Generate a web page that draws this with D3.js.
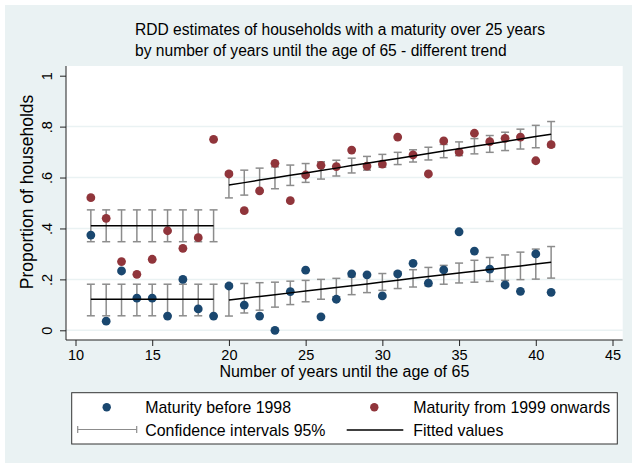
<!DOCTYPE html>
<html lang="en">
<head>
    <meta charset="UTF-8">
    <title>RDD estimates</title>
    <script src="https://d3js.org/d3.v7.min.js"></script>
    <style>
        body { margin: 0; background: #ffffff; }
        svg { display: block; }
        text { font-family: "Liberation Sans", Arial, sans-serif; fill: #000; }
    </style>
</head>
<body>
    <div id="my_dataviz">
        <script>
            // years until 65 (x categories)
            var years = [11, 12, 13, 14, 15, 16, 17, 18, 19, 20, 21, 22, 23, 24, 25, 26, 27, 28, 29, 30,
                         31, 32, 33, 34, 35, 36, 37, 38, 39, 40, 41];
            var cutoff = 20;

            // Maturity before 1998
            var before1998 = [0.374, 0.036, 0.233, 0.126, 0.126, 0.056, 0.200, 0.084, 0.056,
                              0.174, 0.099, 0.056, 0.000, 0.152, 0.236, 0.053, 0.122, 0.222, 0.218, 0.135,
                              0.222, 0.263, 0.185, 0.237, 0.387, 0.311, 0.240, 0.178, 0.153, 0.300, 0.149];
            var fitBefore = [0.122, 0.122, 0.122, 0.122, 0.122, 0.122, 0.122, 0.122, 0.122,
                             0.119, 0.126, 0.133, 0.140, 0.147, 0.154, 0.161, 0.168, 0.175, 0.182, 0.190,
                             0.197, 0.204, 0.211, 0.218, 0.225, 0.232, 0.239, 0.246, 0.253, 0.260, 0.267];
            var loBefore = [0.057, 0.057, 0.057, 0.057, 0.057, 0.057, 0.057, 0.057, 0.057,
                            0.056, 0.068, 0.079, 0.091, 0.101, 0.112, 0.122, 0.132, 0.140, 0.148, 0.157,
                            0.164, 0.170, 0.175, 0.181, 0.186, 0.189, 0.192, 0.196, 0.199, 0.201, 0.205];
            var hiBefore = [0.181, 0.181, 0.181, 0.181, 0.181, 0.181, 0.181, 0.181, 0.181,
                            0.182, 0.184, 0.187, 0.189, 0.193, 0.196, 0.200, 0.204, 0.210, 0.216, 0.223,
                            0.230, 0.238, 0.247, 0.255, 0.264, 0.275, 0.286, 0.296, 0.307, 0.319, 0.329];

            // Maturity from 1999 onwards
            var from1999 = [0.521, 0.440, 0.270, 0.220, 0.279, 0.391, 0.322, 0.364, 0.750,
                            0.614, 0.470, 0.548, 0.656, 0.509, 0.610, 0.648, 0.643, 0.708, 0.645, 0.653,
                            0.759, 0.689, 0.614, 0.744, 0.700, 0.774, 0.741, 0.754, 0.759, 0.666, 0.729];
            var fitFrom = [0.411, 0.411, 0.411, 0.411, 0.411, 0.411, 0.411, 0.411, 0.411,
                           0.571, 0.580, 0.590, 0.599, 0.609, 0.618, 0.628, 0.637, 0.647, 0.656, 0.666,
                           0.675, 0.685, 0.694, 0.704, 0.713, 0.723, 0.732, 0.742, 0.751, 0.761, 0.770];
            var loFrom = [0.348, 0.348, 0.348, 0.348, 0.348, 0.348, 0.348, 0.348, 0.348,
                          0.520, 0.531, 0.543, 0.556, 0.569, 0.581, 0.594, 0.606, 0.618, 0.629, 0.641,
                          0.651, 0.661, 0.669, 0.678, 0.686, 0.693, 0.699, 0.706, 0.712, 0.717, 0.720];
            var hiFrom = [0.473, 0.473, 0.473, 0.473, 0.473, 0.473, 0.473, 0.473, 0.473,
                          0.622, 0.629, 0.637, 0.642, 0.649, 0.655, 0.662, 0.668, 0.676, 0.683, 0.691,
                          0.699, 0.709, 0.719, 0.730, 0.740, 0.753, 0.765, 0.778, 0.790, 0.805, 0.820];

            var xTicks = [10, 15, 20, 25, 30, 35, 40, 45];
            var yTicks = [0, 0.2, 0.4, 0.6, 0.8, 1];
            var yTickLabels = ["0", ".2", ".4", ".6", ".8", "1"];

            var width = 632, height = 463;
            var navy = "#1a476f", maroon = "#90353b", ciGray = "#8c8c8c", bg = "#eaf2f3";
            var plot = {left: 66, right: 622.7, top: 66, bottom: 340};

            var svg = d3.select("#my_dataviz")
                .append("svg")
                .attr("width", width)
                .attr("height", height);

            svg.append("rect").attr("x", 5).attr("y", 5)
                .attr("width", width - 5).attr("height", height - 5)
                .style("fill", bg);
            svg.append("rect").attr("x", plot.left).attr("y", plot.top)
                .attr("width", plot.right - plot.left).attr("height", plot.bottom - plot.top)
                .style("fill", "#ffffff");

            var x = d3.scaleLinear().domain([10, 45]).range([75.5, 612.5]);
            var y = d3.scaleLinear().domain([0, 1]).range([330.3, 75.7]);

            // grid lines
            svg.selectAll("line.grid")
                .data(yTicks.filter(function(d) { return d < 1; }))
                .enter()
                .append("line")
                .attr("class", "grid")
                .attr("x1", plot.left).attr("x2", plot.right)
                .attr("y1", function(d) { return y(d); })
                .attr("y2", function(d) { return y(d); })
                .style("stroke", bg)
                .style("stroke-width", 1.5);

            // axes
            var yAxis = svg.append("g")
                .attr("transform", "translate(" + plot.left + ",0)")
                .call(d3.axisLeft(y).tickValues(yTicks).tickSize(6).tickSizeOuter(0)
                    .tickFormat(function(d, i) { return yTickLabels[i]; }));
            yAxis.select(".domain").attr("d", "M0," + plot.top + "V" + plot.bottom);
            yAxis.selectAll(".tick text")
                .attr("x", null).attr("dy", null)
                .attr("transform", "translate(-14,0) rotate(-90)")
                .attr("text-anchor", "middle")
                .attr("font-size", "14.5px")
                .style("font-family", "Liberation Sans, Arial, sans-serif");

            var xAxis = svg.append("g")
                .attr("transform", "translate(0," + plot.bottom + ")")
                .call(d3.axisBottom(x).tickValues(xTicks).tickSize(6).tickSizeOuter(0));
            xAxis.select(".domain").attr("d", "M" + plot.left + ",0H" + plot.right);
            xAxis.selectAll(".tick text")
                .attr("y", 10)
                .attr("font-size", "14.5px")
                .style("font-family", "Liberation Sans, Arial, sans-serif");
            svg.selectAll(".domain, .tick line").style("stroke", "#222");

            // confidence intervals
            function drawCI(lo, hi) {
                var g = svg.append("g").style("stroke", ciGray).style("stroke-width", 1.5);
                years.forEach(function(yr, i) {
                    var cx = x(yr);
                    g.append("line").attr("x1", cx).attr("x2", cx)
                        .attr("y1", y(lo[i])).attr("y2", y(hi[i]));
                    g.append("line").attr("x1", cx - 4).attr("x2", cx + 4)
                        .attr("y1", y(lo[i])).attr("y2", y(lo[i]));
                    g.append("line").attr("x1", cx - 4).attr("x2", cx + 4)
                        .attr("y1", y(hi[i])).attr("y2", y(hi[i]));
                });
            }
            drawCI(loBefore, hiBefore);
            drawCI(loFrom, hiFrom);

            // scatter
            function drawDots(vals, color) {
                svg.append("g")
                    .selectAll("circle")
                    .data(vals)
                    .enter()
                    .append("circle")
                    .attr("cx", function(d, i) { return x(years[i]); })
                    .attr("cy", function(d) { return y(d); })
                    .attr("r", 4.4)
                    .style("fill", color);
            }
            drawDots(before1998, navy);
            drawDots(from1999, maroon);

            // fitted lines, one segment on each side of the cutoff
            var line = d3.line()
                .x(function(d) { return x(d[0]); })
                .y(function(d) { return y(d[1]); });
            [fitBefore, fitFrom].forEach(function(fit) {
                var pts = years.map(function(yr, i) { return [yr, fit[i]]; });
                [pts.filter(function(p) { return p[0] < cutoff; }),
                 pts.filter(function(p) { return p[0] >= cutoff; })].forEach(function(seg) {
                    svg.append("path")
                        .attr("d", line(seg))
                        .style("fill", "none")
                        .style("stroke", "#000")
                        .style("stroke-width", 1.5);
                });
            });

            // titles
            svg.append("text").attr("x", 135).attr("y", 34.5)
                .attr("font-size", "15.6px")
                .text("RDD estimates of households with a maturity over 25 years");
            svg.append("text").attr("x", 135).attr("y", 55.5)
                .attr("font-size", "15.6px")
                .text("by number of years until the age of 65 - different trend");

            svg.append("text")
                .attr("x", (plot.left + plot.right) / 2).attr("y", 377)
                .attr("text-anchor", "middle")
                .attr("font-size", "16px")
                .text("Number of years until the age of 65");

            svg.append("text")
                .attr("transform", "translate(33,192) rotate(-90)")
                .attr("text-anchor", "middle")
                .attr("font-size", "17.5px")
                .text("Proportion of households");

            // legend
            var leg = svg.append("g");
            leg.append("rect").attr("x", 71.7).attr("y", 392.7)
                .attr("width", 617.3 - 71.7).attr("height", 444 - 392.7)
                .style("fill", "#fff").style("stroke", "#333").style("stroke-width", 1);
            leg.append("circle").attr("cx", 106.7).attr("cy", 407.3).attr("r", 4.2).style("fill", navy);
            leg.append("circle").attr("cx", 374.3).attr("cy", 407.3).attr("r", 4.2).style("fill", maroon);
            var ciLeg = leg.append("g").style("stroke", ciGray).style("stroke-width", 1.2);
            ciLeg.append("line").attr("x1", 77.7).attr("x2", 136.7).attr("y1", 429.5).attr("y2", 429.5);
            ciLeg.append("line").attr("x1", 77.7).attr("x2", 77.7).attr("y1", 426).attr("y2", 433);
            ciLeg.append("line").attr("x1", 136.7).attr("x2", 136.7).attr("y1", 426).attr("y2", 433);
            leg.append("line").attr("x1", 346.7).attr("x2", 403.3).attr("y1", 430).attr("y2", 430)
                .style("stroke", "#000").style("stroke-width", 1.5);

            var legText = [["Maturity before 1998", 145.3, 413], ["Confidence intervals 95%", 145.3, 435.5],
                           ["Maturity from 1999 onwards", 413.3, 413], ["Fitted values", 413.3, 435.5]];
            leg.selectAll("text")
                .data(legText)
                .enter()
                .append("text")
                .attr("x", function(d) { return d[1]; })
                .attr("y", function(d) { return d[2]; })
                .attr("font-size", "15.9px")
                .text(function(d) { return d[0]; });
        </script>
    </div>
</body>
</html>
